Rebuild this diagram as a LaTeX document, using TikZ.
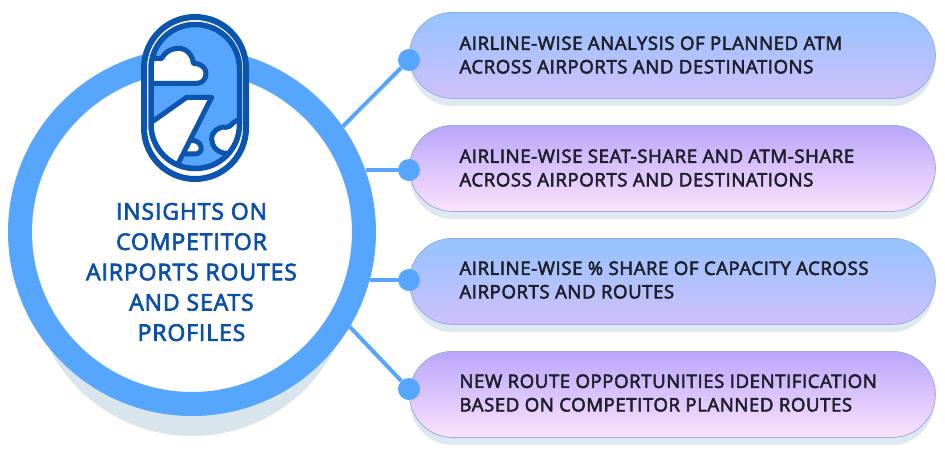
\documentclass[tikz,border=0pt]{standalone}
\usepackage{fontspec}
\setmainfont{Open Sans}
\newfontfamily\semib{Open Sans}[FakeBold=3,LetterSpace=3.1]
\newfontfamily\semibt{Open Sans}[FakeBold=3,LetterSpace=3.8]
\usetikzlibrary{shadings}
\definecolor{ringblue}{HTML}{56A5FF}
\definecolor{darkblue}{HTML}{0B55AE}
\definecolor{titleblue}{HTML}{0A4FA8}
\definecolor{shadowc}{HTML}{D9E5EC}
\definecolor{pillshadow}{HTML}{DFE8F1}
\definecolor{edgec}{HTML}{8FB0E0}
\definecolor{inkc}{HTML}{20202C}
\definecolor{topa}{HTML}{95C3FF}
\definecolor{bota}{HTML}{CFC0FB}
\definecolor{topb}{HTML}{BAA6FB}
\definecolor{botb}{HTML}{FBE2FC}
\tikzset{
  x=1pt,y=-1pt,
  pill/.style={draw=edgec,line width=0.8pt,rounded corners=43pt,minimum width=526pt,minimum height=86pt,inner sep=0pt,anchor=north west,shade,shading angle=0},
  pilla/.style={pill,top color=topa,bottom color=bota},
  pillb/.style={pill,top color=topb,bottom color=botb},
  shad/.style={fill=pillshadow,rounded corners=43pt,minimum width=524pt,minimum height=86pt,inner sep=0pt,anchor=north west},
  lab/.style={anchor=west,align=left,text=inkc,font=\semib\fontsize{18.6}{23.5}\selectfont,inner sep=0pt},
  dotn/.style={circle,fill=ringblue,minimum size=22pt,inner sep=0pt},
  conn/.style={draw=ringblue,line width=4pt},
  iconline/.style={draw=darkblue,line width=5pt,line join=round},
}
\begin{document}
\begin{tikzpicture}
\useasboundingbox (0,0) rectangle (945,459);
% big circle
\fill[shadowc] (192,276) circle[radius=160];
\node[circle,draw=ringblue,line width=24pt,fill=white,minimum size=344pt,inner sep=0pt] (hub) at (192,232) {};
% pills
\foreach \n/\y/\st in {a/12/pilla,b/125/pillb,c/238/pilla,d/351/pillb}{
  \node[shad] at (410,\y+8) {};
  \node[\st] (p\n) at (409,\y) {};
}
% dots
\node[dotn] (da) at (409,60) {};
\node[dotn] (db) at (409,170) {};
\node[dotn] (dc) at (409,280) {};
\node[dotn] (dd) at (409,389) {};
\draw[conn] (hub.35) -- (da);
\draw[conn] (db -| hub.19.7) -- (db);
\draw[conn] (dc -| hub.-15.1) -- (dc);
\draw[conn] (hub.-31.5) -- (dd);
% texts
\node[lab] (ta) at (459.3,55) {AIRLINE-WISE ANALYSIS OF PLANNED ATM\\ACROSS AIRPORTS AND DESTINATIONS};
\node[lab] (tb) at (459.3,168) {AIRLINE-WISE SEAT-SHARE AND ATM-SHARE\\ACROSS AIRPORTS AND DESTINATIONS};
\node[lab] (tc) at (459.3,280) {AIRLINE-WISE \% SHARE OF CAPACITY ACROSS\\AIRPORTS AND ROUTES};
\node[lab] (td) at (459.3,393) {NEW ROUTE OPPORTUNITIES IDENTIFICATION\\BASED ON COMPETITOR PLANNED ROUTES};
\node[align=center,text=titleblue,font=\semibt\fontsize{23}{30.3}\selectfont,inner sep=0pt] (title) at (191.5,272) {INSIGHTS ON\\COMPETITOR\\AIRPORTS ROUTES\\AND SEATS\\PROFILES};
% icon
\draw[draw=darkblue,line width=6pt,fill=white,rounded corners=51pt] (144,17) rectangle (246,179);
\begin{scope}
\path[clip,rounded corners=44pt] (151,24.5) rectangle (239.5,168.5);
\fill[ringblue] (151,24.5) rectangle (239.5,168.5);
\begin{scope}[shift={(120,0)},x=0.3333pt,y=-0.3333pt]
\filldraw[iconline,fill=white] (90,175) -- (125,175) .. controls (135,155) and (155,145) .. (175,145) .. controls (200,145) and (218,165) .. (220,190) .. controls (245,190) and (258,205) .. (258,220) .. controls (258,240) and (245,250) .. (230,250) -- (90,250) -- cycle;
\filldraw[iconline,fill=white] (190,462) -- (225,462) .. controls (240,462) and (246,450) .. (243,440) .. controls (240,425) and (225,420) .. (205,420) -- cycle;
\filldraw[iconline,fill=white] (90,370) -- (200,292) -- (275,292) -- (170,500) -- (90,500) -- cycle;
\filldraw[iconline,fill=white] (370,350) -- (340,368) .. controls (332,378) and (325,382) .. (318,382) .. controls (295,378) and (275,395) .. (275,418) .. controls (275,440) and (295,460) .. (320,460) -- (370,460) -- cycle;
\end{scope}
\end{scope}
\draw[draw=darkblue,line width=5.5pt,rounded corners=44pt,fill=none] (151,24.5) rectangle (239.5,168.5);
\end{tikzpicture}
\end{document}
